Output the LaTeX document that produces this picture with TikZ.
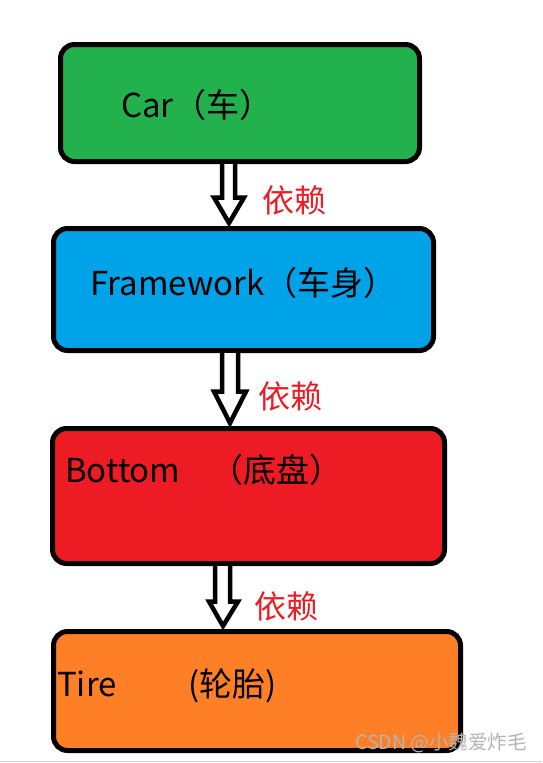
\documentclass[tikz,border=0pt]{standalone}
\usepackage{fontspec}
\setmainfont{Noto Sans CJK SC}
\usetikzlibrary{calc}
\definecolor{cgreen}{HTML}{22B14C}
\definecolor{cblue}{HTML}{00A2E8}
\definecolor{cred}{HTML}{ED1C24}
\definecolor{corange}{HTML}{FF7F27}
\definecolor{wmgray}{HTML}{B4B4B4}
\tikzset{
  box/.style={draw=black, line width=5pt, rounded corners=14pt, inner sep=0pt},
  boxtext/.style={anchor=west, inner sep=0pt, font=\fontsize{33}{33}\selectfont, text=black},
  deplabel/.style={inner sep=0pt, font=\fontsize{32}{32}\selectfont, text=cred},
  blk/.style={draw=black, fill=white, line width=4.5pt, line join=miter},
}
\begin{document}
\begin{tikzpicture}[x=1pt, y=-1pt]
\useasboundingbox[fill=white] (0,0) rectangle (542,763);
\draw[line width=1.5pt, draw=black!18] (0,761.5) -- (542,761.5);

\node[box, fill=cgreen, minimum width=359pt, minimum height=117pt] (car) at (240,103) {};
\node[box, fill=cblue, minimum width=380pt, minimum height=122pt] (frame) at (243.5,289.5) {};
\node[box, fill=cred, minimum width=392pt, minimum height=135pt] (bottom) at (248.5,496) {};
\node[box, fill=corange, minimum width=407pt, minimum height=119pt] (tire) at (257,691) {};

\node[boxtext] (tcar) at (121,105) {Car（车）};
\node[boxtext] (tframe) at (90,283) {Framework（车身）};
\node[boxtext] (tbottom) at (65,470) {Bottom\hspace{30pt}（底盘）};
\node[boxtext] (ttire) at (57,686) {Tire\hspace{72pt}(轮胎)};

% block arrows
\draw[blk] ($(car.south)+(-18,0)$) -- ($(car.south)+(-18,33.5)$) -- ($(car.south)+(-26,33.5)$)
  -- ($(frame.north)+(-14.5,-3)$) -- ($(car.south)+(4,33.5)$) -- ($(car.south)+(-5,33.5)$)
  -- ($(car.south)+(-5,0)$);
\draw[blk] ($(frame.south)+(-21.5,0)$) -- ($(frame.south)+(-21.5,38.5)$) -- ($(frame.south)+(-29.5,38.5)$)
  -- ($(bottom.north)+(-18.5,-3)$) -- ($(frame.south)+(2.5,38.5)$) -- ($(frame.south)+(-5.5,38.5)$)
  -- ($(frame.south)+(-5.5,0)$);
\draw[blk] ($(bottom.south)+(-33.5,0)$) -- ($(bottom.south)+(-33.5,35.5)$) -- ($(bottom.south)+(-39.5,35.5)$)
  -- ($(tire.north)+(-34,-3)$) -- ($(bottom.south)+(-10.5,35.5)$) -- ($(bottom.south)+(-18.5,35.5)$)
  -- ($(bottom.south)+(-18.5,0)$);

\node[deplabel] (d1) at (294,200) {依赖};
\node[deplabel] (d2) at (290,396) {依赖};
\node[deplabel] (d3) at (286,606) {依赖};

\node[inner sep=0pt, anchor=east, font=\fontsize{19.5}{19.5}\selectfont, text=wmgray] (wm) at (527,743) {CSDN @小魏爱炸毛};
\end{tikzpicture}
\end{document}
